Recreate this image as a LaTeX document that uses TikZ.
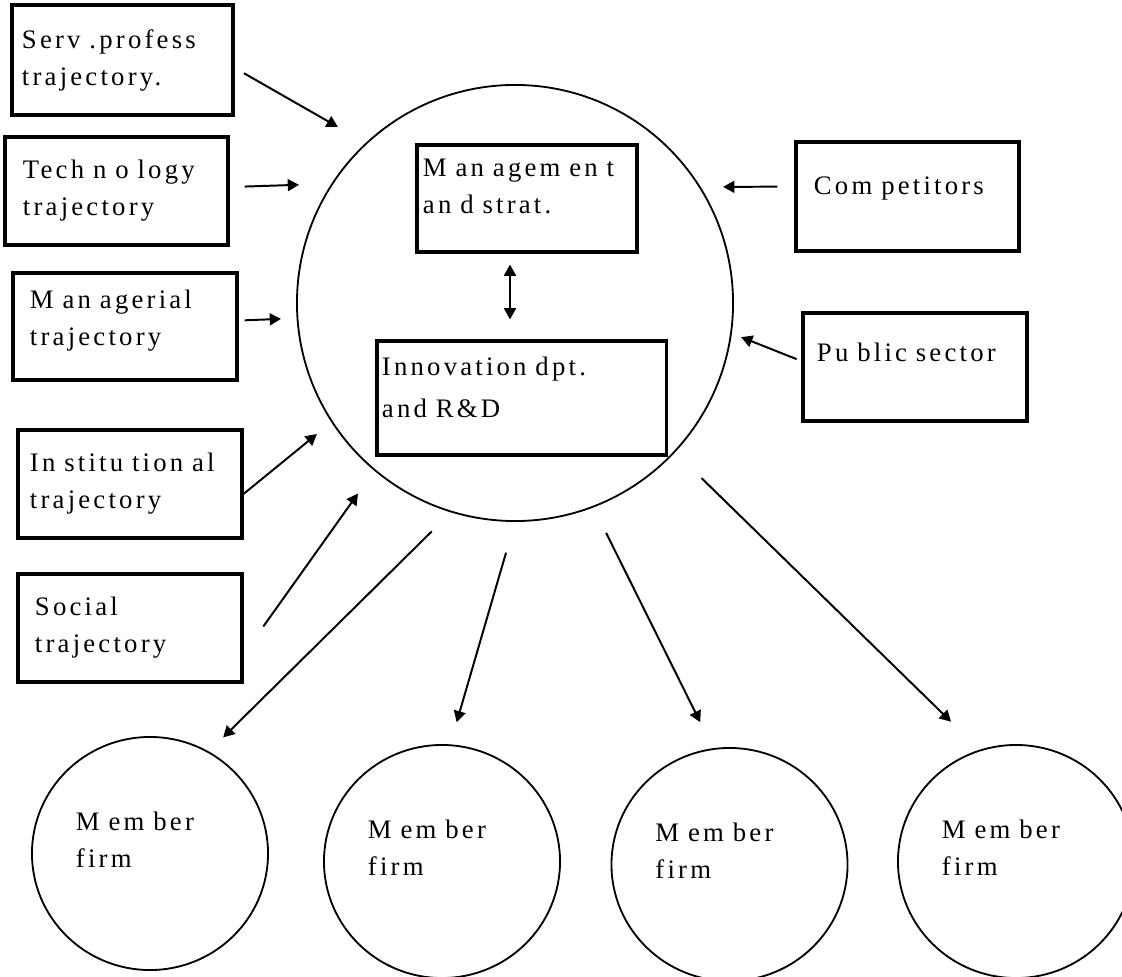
\documentclass[tikz,border=0pt]{standalone}
\usepackage{fontspec}
\setmainfont{Liberation Serif}[LetterSpace=12]
\usetikzlibrary{arrows.meta,shapes.geometric}
\begin{document}
\begin{tikzpicture}[x=0.025cm, y=0.025cm,
  every node/.style={font=\fontsize{19}{26.3}\selectfont},
  trajbox/.style={draw, line width=2.2pt, align=left},
  firm/.style={draw, ellipse, line width=1.3pt, minimum width=5.9cm, minimum height=5.825cm, align=left, text width=3.7cm, text depth=1.6cm},
  flow/.style={-{Triangle[length=8pt,width=8.5pt]}, line width=1.4pt}]
  \useasboundingbox (0,0) rectangle (1122,976);
  \node[circle, draw, line width=1.3pt, minimum size=10.9cm] (hub) at (515,673) {};
  \node[trajbox, text width=5.025cm, inner xsep=0.25cm, minimum height=2.75cm] (serv) at (122.5,916) {Serv .profess\\trajectory.};
  \node[trajbox, text width=4.675cm, inner xsep=0.45cm, minimum height=2.7cm] (tech) at (116.5,785) {Tech n o logy\\trajectory};
  \node[trajbox, text width=4.75cm, inner xsep=0.425cm, minimum height=2.675cm, text depth=1.365cm] (mgr) at (125,649.5) {M an agerial\\trajectory};
  \node[trajbox, text width=5.0cm, inner xsep=0.3cm, minimum height=2.7cm] (inst) at (130,492) {In stitu tion al\\trajectory};
  \node[trajbox, text width=4.75cm, inner xsep=0.425cm, minimum height=2.7cm] (social) at (130,348) {Social\\trajectory};
  \node[trajbox, text width=5.2cm, inner xsep=0.15cm, minimum height=2.675cm, text depth=1.525cm] (strat) at (527,777.5) {M an agem en t\\an d strat.};
  \node[trajbox, text width=6.975cm, inner xsep=0.125cm, minimum height=2.85cm, text depth=1.6cm] (innov) at (521.5,578) {Innovation dpt.\\[0.125cm]and R\&D};
  \node[trajbox, text width=4.675cm, inner xsep=0.45cm, minimum height=2.725cm, text depth=0.52cm] (comp) at (907.5,779.5) {Com petitors};
  \node[trajbox, text width=4.9cm, inner xsep=0.35cm, minimum height=2.7cm, text depth=0.75cm] (public) at (915,609) {Pu blic sector};
  \node[firm] (f1) at (150,122.5) {M em ber\\firm};
  \node[firm] (f2) at (442,114.5) {M em ber\\firm};
  \node[firm] (f3) at (729.5,111.5) {M em ber\\firm};
  \node[firm] (f4) at (1016,114.5) {M em ber\\firm};
  \draw[flow, shorten <=0.27cm, shorten >=0.8cm] (serv.-4) -- (hub.133.2);
  \draw[flow, shorten <=0.375cm, shorten >=0.81cm] (tech.2) -- (hub.147.9);
  \draw[flow, shorten <=0.15cm, shorten >=0.39cm] (mgr.3) -- (hub.184.7);
  \draw[flow, shorten >=0.465cm] (inst.-5) -- (hub.213.2);
  \draw[flow, shorten <=0.85cm, shorten >=0.7cm] (social.-13.4) -- (hub.230.2);
  \draw[flow, shorten <=0.425cm, shorten >=0.56cm] (comp.175.1) -- (hub.32.1);
  \draw[flow, shorten <=0.13cm, shorten >=0.25cm] (public.177.4) -- (hub.-8.3);
  \draw[flow, {Triangle[length=8pt,width=8.5pt]}-{Triangle[length=8pt,width=8.5pt]}, shorten <=0.275cm, shorten >=0.5cm] ([xshift=-0.425cm]strat.south) -- ([xshift=-0.2875cm]innov.north);
  \draw[flow, shorten <=0.675cm, shorten >=0.5cm] (hub.253.6) -- (f1.60);
  \draw[flow, shorten <=0.8cm, shorten >=0.575cm] (hub.270.9) -- (f2.86);
  \draw[flow, shorten <=0.71cm, shorten >=0.725cm] (hub.291.1) -- (f3.98.2);
  \draw[flow, shorten <=0.92cm, shorten >=1.0cm] (hub.317.6) -- (f4.108.9);
\end{tikzpicture}
\end{document}
